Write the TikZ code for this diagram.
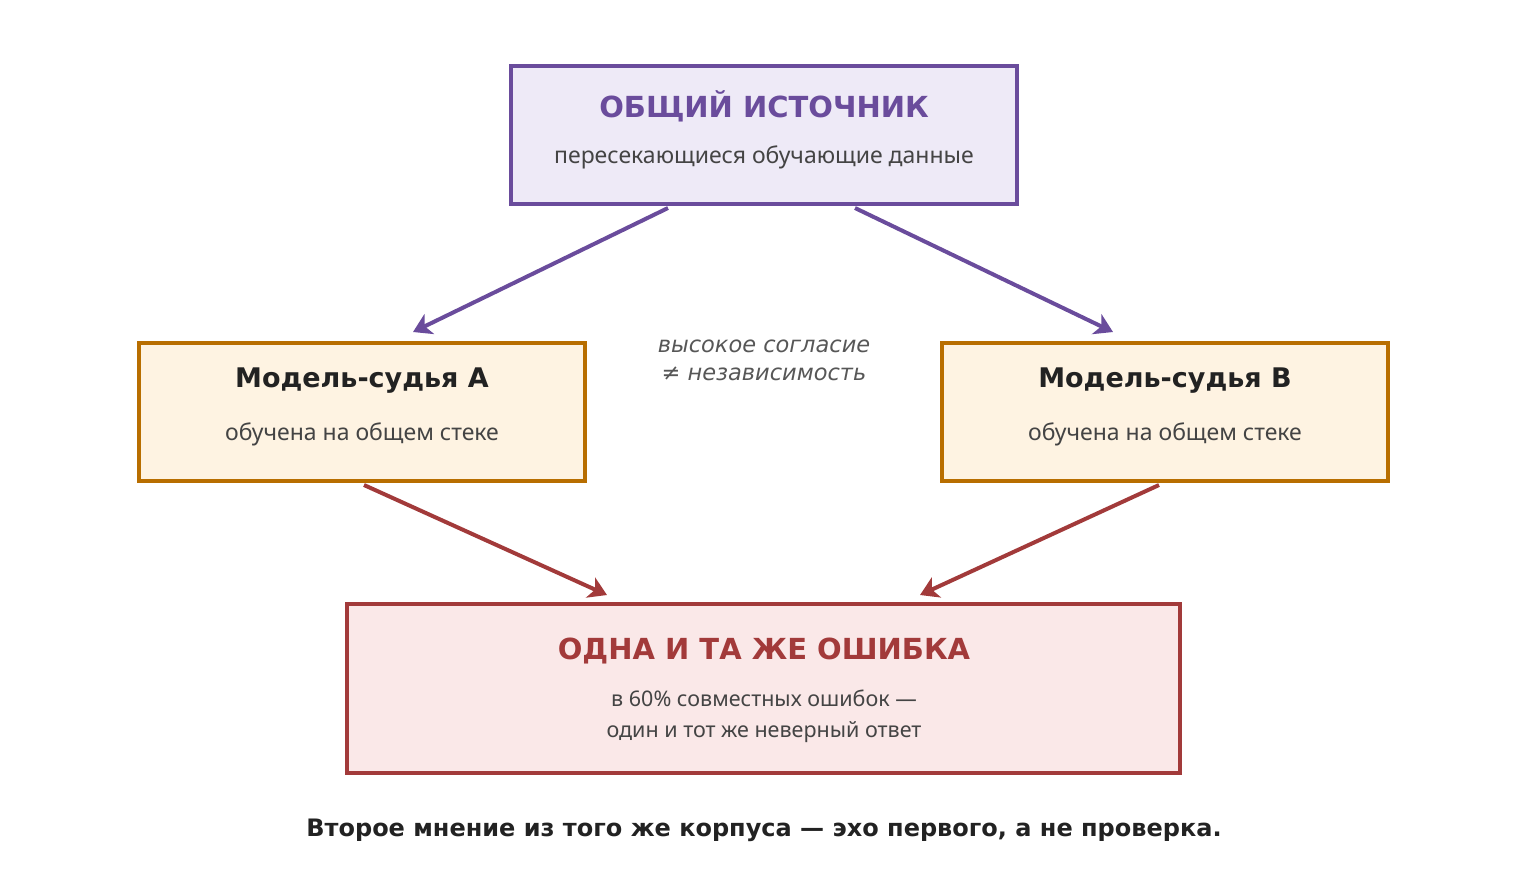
\documentclass[tikz,border=0pt]{standalone}
\usepackage{fontspec}
\setmainfont{Noto Sans}
\newfontfamily\hd{DejaVu Sans}
\usetikzlibrary{arrows.meta,calc}
\definecolor{pur}{HTML}{6A4C9C}\definecolor{purf}{HTML}{EEEAF7}
\definecolor{org}{HTML}{B86E00}\definecolor{orgf}{HTML}{FEF3E2}
\definecolor{rd}{HTML}{A23A3A}\definecolor{rdf}{HTML}{FAE8E8}
\definecolor{tx}{HTML}{444444}\definecolor{dk}{HTML}{222222}
\begin{document}
\begin{tikzpicture}[x=1pt,y=-1pt,
 box/.style={draw,line width=4pt,minimum width=#1,inner sep=0pt},
 ar/.style={line width=4pt,-{Stealth[length=18pt,width=22pt,inset=5pt]}}]
\useasboundingbox (0,0) rectangle (1528,871);
\node[box=506pt,draw=pur,fill=purf,minimum height=138pt] (top) at (764,135) {};
\node[box=446pt,draw=org,fill=orgf,minimum height=138pt] (a) at (362,412) {};
\node[box=446pt,draw=org,fill=orgf,minimum height=138pt] (b) at (1165,412) {};
\node[box=833pt,draw=rd,fill=rdf,minimum height=169pt] (c) at (763.5,688.5) {};
\node[text=pur,font=\hd\bfseries\fontsize{29}{34}\selectfont] (t1) at (764,106) {ОБЩИЙ ИСТОЧНИК};
\node[text=tx,font=\fontsize{23}{28}\selectfont] (t2) at (764,157) {пересекающиеся обучающие данные};
\node[text=dk,font=\hd\bfseries\fontsize{27}{32}\selectfont] (a1) at (362,381) {Модель-судья А};
\node[text=tx,font=\fontsize{23}{28}\selectfont] (a2) at (362,434) {обучена на общем стеке};
\node[text=dk,font=\hd\bfseries\fontsize{27}{32}\selectfont] (b1) at (1165,381) {Модель-судья B};
\node[text=tx,font=\fontsize{23}{28}\selectfont] (b2) at (1165,434) {обучена на общем стеке};
\node[text=rd,font=\hd\bfseries\fontsize{29}{34}\selectfont] (c1) at (764,651) {ОДНА И ТА ЖЕ ОШИБКА};
\node[text=tx,font=\fontsize{21.5}{31}\selectfont,align=center] (c2) at (764,716) {в 60\% совместных ошибок —\\один и тот же неверный ответ};
\node[text=tx!90,font=\hd\itshape\fontsize{22.5}{28}\selectfont,align=center] (m) at (764,360) {высокое согласие\\≠ независимость};
\node[text=dk,font=\hd\bfseries\fontsize{24}{30}\selectfont] (cap) at (764,830) {Второе мнение из того же корпуса — эхо первого, а не проверка.};
\coordinate (ea) at (413,332); \coordinate (eb) at (1113,332);
\coordinate (ec1) at (607,595); \coordinate (ec2) at (920,595);
\draw[ar,pur] ($(top.south west)+(159,2)$) -- (ea);
\draw[ar,pur] ($(top.south west)+(346,2)$) -- (eb);
\draw[ar,rd] ($(a.south west)+(227,2)$) -- (ec1);
\draw[ar,rd] ($(b.south west)+(219,2)$) -- (ec2);
\end{tikzpicture}
\end{document}
